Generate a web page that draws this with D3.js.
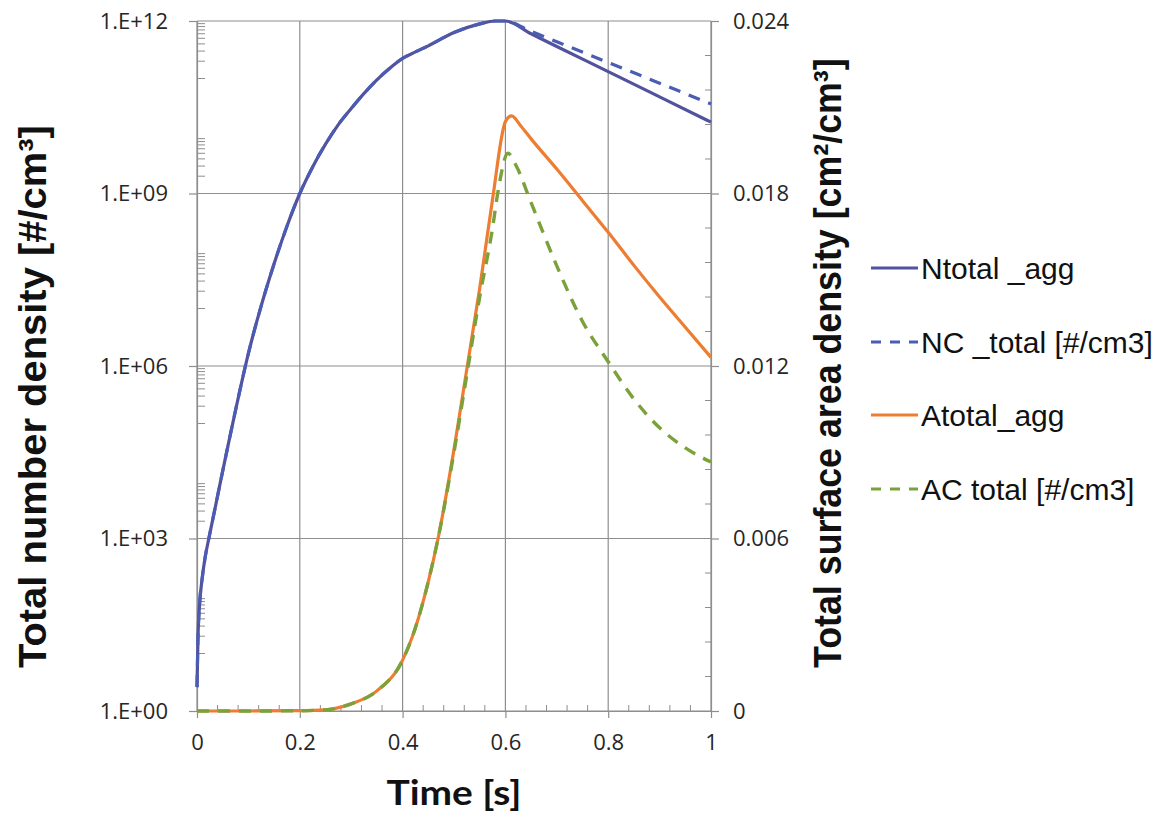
<!DOCTYPE html>
<html><head><meta charset="utf-8">
<script src="https://cdn.jsdelivr.net/npm/d3@7"></script>
<style>body{margin:0;background:#fff}</style>
</head><body>
<svg id="chart" width="1175" height="813"></svg>
<script>
// ---- data ----
const timeN = [0, 0.002, 0.005, 0.01, 0.016, 0.023, 0.035, 0.045, 0.06, 0.075, 0.1, 0.125, 0.15, 0.175, 0.2, 0.225, 0.25, 0.275, 0.3, 0.325, 0.35, 0.375, 0.4, 0.425, 0.45, 0.5, 0.55, 0.58, 0.6, 0.65, 0.7, 0.8, 0.9, 1.0];
const nTotalAgg = [2.6, 20, 71, 200, 480, 1.0e3, 3.3e3, 9.1e3, 4.0e4, 1.7e5, 1.66e6, 1.12e7, 6.0e7, 2.7e8, 1.0e9, 2.9e9, 7.2e9, 1.58e10, 3.0e10, 5.5e10, 9.5e10, 1.51e11, 2.24e11, 2.9e11, 3.7e11, 6.3e11, 8.9e11, 1.0e12, 1.0e12, 6.0e11, 3.6e11, 1.32e11, 4.8e10, 1.74e10];
const timeNC = [0, 0.002, 0.005, 0.01, 0.016, 0.023, 0.035, 0.045, 0.06, 0.075, 0.1, 0.125, 0.15, 0.175, 0.2, 0.225, 0.25, 0.275, 0.3, 0.325, 0.35, 0.375, 0.4, 0.425, 0.45, 0.5, 0.55, 0.58, 0.6, 0.65, 0.7, 0.8, 0.9, 1.0];
const ncTotal = [2.6, 20, 71, 200, 480, 1.0e3, 3.3e3, 9.1e3, 4.0e4, 1.7e5, 1.66e6, 1.12e7, 6.0e7, 2.7e8, 1.0e9, 2.9e9, 7.2e9, 1.58e10, 3.0e10, 5.5e10, 9.5e10, 1.51e11, 2.24e11, 2.9e11, 3.7e11, 6.3e11, 8.9e11, 1.0e12, 1.0e12, 6.6e11, 4.35e11, 1.9e11, 8.3e10, 3.6e10];
const timeA = [0, 0.1, 0.2, 0.25, 0.3, 0.35, 0.4, 0.425, 0.45, 0.469, 0.5, 0.525, 0.55, 0.575, 0.6, 0.612, 0.63, 0.65, 0.7, 0.75, 0.8, 0.85, 0.9, 0.95, 1.0];
const aTotalAgg = [0, 0, 0.00001, 0.00004, 0.00025, 0.0007, 0.00177, 0.0029, 0.0045, 0.006, 0.0091, 0.0119, 0.0147, 0.0178, 0.0205, 0.0207, 0.02035, 0.0199, 0.01885, 0.01775, 0.01665, 0.0155, 0.0144, 0.01335, 0.0123];
const timeAC = [0, 0.1, 0.2, 0.25, 0.3, 0.35, 0.4, 0.425, 0.45, 0.469, 0.5, 0.525, 0.55, 0.575, 0.585, 0.605, 0.62, 0.65, 0.7, 0.75, 0.8, 0.85, 0.9, 0.95, 1.0];
const acTotal = [0, 0, 0.00001, 0.00004, 0.00025, 0.0007, 0.00177, 0.0029, 0.0045, 0.006, 0.009, 0.0117, 0.0144, 0.0168, 0.0180, 0.0194, 0.0190, 0.01768, 0.01548, 0.01355, 0.01215, 0.01085, 0.00985, 0.00915, 0.00866];

const xTickValues = [0, 0.2, 0.4, 0.6, 0.8, 1];
const xTickLabels = ["0", "0.2", "0.4", "0.6", "0.8", "1"];
const leftTickValues = [1e0, 1e3, 1e6, 1e9, 1e12];
const leftTickLabels = ["1.E+00", "1.E+03", "1.E+06", "1.E+09", "1.E+12"];
const rightTickValues = [0, 0.006, 0.012, 0.018, 0.024];
const rightTickLabels = ["0", "0.006", "0.012", "0.018", "0.024"];
const seriesNames = ["Ntotal _agg", "NC _total [#/cm3]", "Atotal_agg", "AC total [#/cm3]"];
const leftTitle = "Total number density [#/cm³]";
const rightTitle = "Total surface area density [cm²/cm³]";
const xTitle = "Time [s]";

// ---- layout ----
const L = 197, R = 711, T = 21, B = 711;
const svg = d3.select("#chart");
const x = d3.scaleLinear().domain([0, 1]).range([L, R]);
const yL = d3.scaleLog().domain([1, 1e12]).range([B, T]);
const yR = d3.scaleLinear().domain([0, 0.024]).range([B, T]);
const gridColor = "#8e8e8e";
const tickFont = "'Open Sans', Lato, 'Liberation Sans', sans-serif";

// gridlines
svg.append("g").selectAll("line").data(xTickValues).join("line")
  .attr("x1", d => x(d)).attr("x2", d => x(d)).attr("y1", T).attr("y2", B)
  .attr("stroke", gridColor).attr("stroke-width", 1.2);
svg.append("g").selectAll("line").data(leftTickValues).join("line")
  .attr("x1", L).attr("x2", R).attr("y1", d => yL(d)).attr("y2", d => yL(d))
  .attr("stroke", gridColor).attr("stroke-width", 1.2);

// minor ticks
const leftMinor = [];
[1, 3, 5, 7, 9, 11].forEach(e => { for (let k = 1; k <= 9; k++) { const v = k * Math.pow(10, e); if (!leftTickValues.includes(v)) leftMinor.push(v); } });
svg.append("g").selectAll("line").data(leftMinor).join("line")
  .attr("x1", L).attr("x2", L + 8).attr("y1", d => yL(d)).attr("y2", d => yL(d))
  .attr("stroke", gridColor).attr("stroke-width", 1);
const rightMinor = d3.range(0, 0.0241, 0.0012).filter(v => Math.abs(v / 0.006 - Math.round(v / 0.006)) > 1e-6);
svg.append("g").selectAll("line").data(rightMinor).join("line")
  .attr("x1", R - 6).attr("x2", R).attr("y1", d => yR(d)).attr("y2", d => yR(d))
  .attr("stroke", gridColor).attr("stroke-width", 1);
const xMinor = d3.range(0, 1.001, 0.04).filter(v => Math.abs(v / 0.2 - Math.round(v / 0.2)) > 1e-6);
svg.append("g").selectAll("line").data(xMinor).join("line")
  .attr("x1", d => x(d)).attr("x2", d => x(d)).attr("y1", B - 6).attr("y2", B)
  .attr("stroke", gridColor).attr("stroke-width", 1);

// axes
function styleAxis(g) {
  g.selectAll("path.domain").attr("stroke", gridColor).attr("stroke-width", 1.2);
  g.selectAll(".tick line").attr("stroke", gridColor).attr("stroke-width", 1.2);
  g.selectAll(".tick text").attr("fill", "#262626").style("font-family", tickFont).style("font-size", "22px");
}
const gx = svg.append("g").attr("transform", `translate(0,${B})`)
  .call(d3.axisBottom(x).tickValues(xTickValues).tickFormat((d, i) => xTickLabels[i]).tickSize(7).tickSizeOuter(0).tickPadding(16));
styleAxis(gx);
const gl = svg.append("g").attr("transform", `translate(${L},0)`)
  .call(d3.axisLeft(yL).tickValues(leftTickValues).tickFormat((d, i) => leftTickLabels[i]).tickSize(8).tickSizeOuter(0).tickPadding(21));
styleAxis(gl);
const gr = svg.append("g").attr("transform", `translate(${R},0)`)
  .call(d3.axisRight(yR).tickValues(rightTickValues).tickFormat((d, i) => rightTickLabels[i]).tickSize(8).tickSizeOuter(0).tickPadding(14));
styleAxis(gr);

// series
const colN = "#52529e", colNC = "#4a5cb4", colA = "#ed7d31", colAC = "#7ba13a";
const lineL = d3.line().x(d => x(d[0])).y(d => yL(d[1])).curve(d3.curveMonotoneX);
const lineR = d3.line().x(d => x(d[0])).y(d => yR(d[1])).curve(d3.curveMonotoneX);
svg.append("path").datum(d3.zip(timeN, nTotalAgg)).attr("d", lineL)
  .attr("fill", "none").attr("stroke", colN).attr("stroke-width", 3.2);
svg.append("path").datum(d3.zip(timeNC, ncTotal)).attr("d", lineL)
  .attr("fill", "none").attr("stroke", colNC).attr("stroke-width", 3.2).attr("stroke-dasharray", "12,9");
svg.append("path").datum(d3.zip(timeA, aTotalAgg)).attr("d", lineR)
  .attr("fill", "none").attr("stroke", colA).attr("stroke-width", 3.2);
svg.append("path").datum(d3.zip(timeAC, acTotal)).attr("d", lineR)
  .attr("fill", "none").attr("stroke", colAC).attr("stroke-width", 3.4).attr("stroke-dasharray", "12,9");

// titles (rotated, scaled to span the reference length)
const titleFont = "'Liberation Sans Narrow', 'Arial Narrow', 'Liberation Sans', Arial, sans-serif";
function vTitle(txt, bx, by, target) {
  const t = svg.append("text")
    .style("font-family", titleFont).style("font-weight", "bold").style("font-size", "35px")
    .attr("fill", "#111").text(txt);
  const len = t.node().getComputedTextLength();
  t.attr("transform", `translate(${bx},${by}) rotate(-90) scale(${target / len},1.12)`);
}
vTitle(leftTitle, 46, 668, 543);
vTitle(rightTitle, 841, 668, 610);
svg.append("text").attr("x", 454).attr("y", 805).attr("text-anchor", "middle")
  .attr("textLength", 135).attr("lengthAdjust", "spacingAndGlyphs")
  .style("font-family", "Lato, 'Liberation Sans', sans-serif").style("font-weight", "bold").style("font-size", "34px")
  .attr("fill", "#111").text(xTitle);

// legend
const legY = [268, 342, 415, 489];
const legColors = [colN, colNC, colA, colAC];
const legDash = [null, "10,9", null, "10,9"];
const leg = svg.append("g");
seriesNames.forEach((name, i) => {
  leg.append("line").attr("x1", 871).attr("x2", 918).attr("y1", legY[i]).attr("y2", legY[i])
    .attr("stroke", legColors[i]).attr("stroke-width", 3).attr("stroke-dasharray", legDash[i]);
  leg.append("text").attr("x", 921).attr("y", legY[i]).attr("dy", "0.36em")
    .style("font-family", "'Liberation Sans', Arial, sans-serif").style("font-size", "30px")
    .attr("fill", "#111").text(name);
});
</script>
</body></html>
